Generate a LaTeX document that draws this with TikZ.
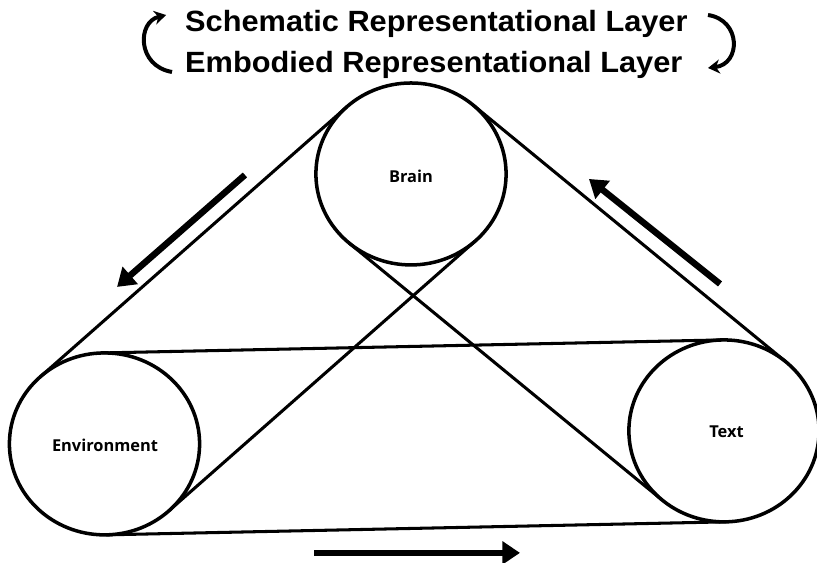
\documentclass[tikz,border=0pt]{standalone}
\usepackage{fontspec}
\usetikzlibrary{arrows.meta}
\setmainfont{Liberation Sans}
\newfontfamily\titlefont[FakeStretch=1.05]{Liberation Sans}
\newfontfamily\labelfont{Open Sans}
\begin{document}
\begin{tikzpicture}[x=0.03135cm,y=-0.03cm,
  ring/.style={line width=3pt},
  belt/.style={line width=2.6pt, line cap=round},
  flow/.style={line width=5.5pt,-{Triangle[length=15pt,width=19pt]}},
  turn/.style={line width=3.4pt,-{Stealth[length=10pt,width=12pt]}},
  lbl/.style={font=\labelfont\bfseries\fontsize{14}{16}\selectfont, inner sep=0pt},
  ttl/.style={font=\titlefont\bfseries\fontsize{25}{30}\selectfont, anchor=base west, inner sep=0pt}]
\useasboundingbox (0,0) rectangle (781.82,563);
% circle centres
\coordinate (B) at (393.3,174);
\coordinate (E) at (100.0,444);
\coordinate (T) at (692.8,431);
% tangent points
\coordinate (BEu1) at (331.7,107.05);  \coordinate (BEu2) at (38.4,377.05);
\coordinate (BEl1) at (454.9,240.95);  \coordinate (BEl2) at (161.6,510.95);
\coordinate (BTu1) at (452.6,104.94);  \coordinate (BTu2) at (752.1,361.94);
\coordinate (BTl1) at (334.0,243.06);  \coordinate (BTl2) at (633.5,500.06);
\coordinate (ETu1) at (98.0,353.02);   \coordinate (ETu2) at (690.8,340.02);
\coordinate (ETl1) at (102.0,534.98);  \coordinate (ETl2) at (694.8,521.98);
% belts
\draw[belt] (BEu1) -- (BEu2);
\draw[belt] (BEl1) -- (BEl2);
\draw[belt] (BTu1) -- (BTu2);
\draw[belt] (BTl1) -- (BTl2);
\draw[belt] (ETu1) -- (ETu2);
\draw[belt] (ETl1) -- (ETl2);
% circles
\draw[ring] (B) circle[radius=91];
\draw[ring] (E) circle[radius=91];
\draw[ring] (T) circle[radius=91];
% labels
\node[lbl] (brain) at (393.3,176) {Brain};
\node[lbl] (env) at (100.5,445) {Environment};
\node[lbl] (text) at (695.2,432) {Text};
% flow arrows
\coordinate (a1s) at (234.4,175); \coordinate (a1e) at (112.0,287);
\coordinate (a2s) at (689.0,284); \coordinate (a2e) at (563.6,179);
\coordinate (a3s) at (300.5,553); \coordinate (a3e) at (497.6,553);
\draw[flow] (a1s) -- (a1e);
\draw[flow] (a2s) -- (a2e);
\draw[flow] (a3s) -- (a3e);
% titles
\node[ttl] (t1) at (177,32) {Schematic Representational Layer};
\node[ttl] (t2) at (177,73) {Embodied Representational Layer};
% curved arrows
\coordinate (cl1) at (164.6,72); \coordinate (cl2) at (158.9,15);
\coordinate (cr1) at (677.5,15); \coordinate (cr2) at (677.5,68);
\draw[turn] (cl1) .. controls (131,66) and (131,22) .. (cl2);
\draw[turn] (cr1) .. controls (709.3,20) and (709.3,64) .. (cr2);
\end{tikzpicture}
\end{document}
